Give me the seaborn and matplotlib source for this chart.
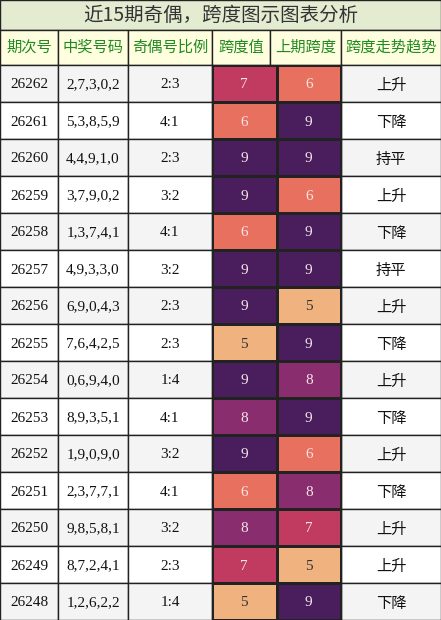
import matplotlib
matplotlib.use("Agg")
import matplotlib.pyplot as plt
from matplotlib.colors import ListedColormap, BoundaryNorm
from matplotlib.patches import Rectangle
import seaborn as sns
import numpy as np

plt.rcParams['font.family'] = ['Noto Sans CJK SC', 'DejaVu Sans']

title = "近15期奇偶，跨度图示图表分析"
headers = ["期次号", "中奖号码", "奇偶号比例", "跨度值", "上期跨度", "跨度走势趋势"]
periods = ["26262","26261","26260","26259","26258","26257","26256","26255","26254","26253","26252","26251","26250","26249","26248"]
numbers = ["2,7,3,0,2","5,3,8,5,9","4,4,9,1,0","3,7,9,0,2","1,3,7,4,1","4,9,3,3,0","6,9,0,4,3","7,6,4,2,5","0,6,9,4,0","8,9,3,5,1","1,9,0,9,0","2,3,7,7,1","9,8,5,8,1","8,7,2,4,1","1,2,6,2,2"]
ratios = ["2:3","4:1","2:3","3:2","4:1","3:2","2:3","2:3","1:4","4:1","3:2","4:1","3:2","2:3","1:4"]
span = [7,6,9,9,6,9,9,5,9,8,9,6,8,7,5]
prev_span = [6,9,9,6,9,9,5,9,8,9,6,8,7,5,9]
trend = ["上升","下降","持平","上升","下降","持平","上升","下降","上升","下降","上升","下降","上升","上升","下降"]

W, H = 441, 620
cols = [0, 58, 128, 212, 270, 341, 441]
top_title, top_head, top_rows = 0, 30, 65
rh = (H - top_rows) / 15

fig = plt.figure(figsize=(4.41, 6.2), dpi=100)
bg = fig.add_axes([0, 0, 1, 1])
bg.set_xlim(0, W); bg.set_ylim(H, 0); bg.axis('off')

bg.add_patch(Rectangle((0, 0), W, 30, facecolor='#e3ebd0', edgecolor='#222', lw=1))
bg.text(W/2, 15, title, ha='center', va='center', fontsize=14, color='#333')
for i, h in enumerate(headers):
    bg.add_patch(Rectangle((cols[i], top_head), cols[i+1]-cols[i], top_rows-top_head,
                           facecolor='#ffffe0', edgecolor='#222', lw=1))
    bg.text((cols[i]+cols[i+1])/2, (top_head+top_rows)/2, h, ha='center', va='center',
            fontsize=11, color='#1f8a1f')
for r in range(15):
    y0 = top_rows + r*rh
    fc = '#f4f4f4' if r % 2 == 0 else '#ffffff'
    vals = [periods[r], numbers[r], ratios[r], None, None, trend[r]]
    for i, v in enumerate(vals):
        if v is None:
            continue
        bg.add_patch(Rectangle((cols[i], y0), cols[i+1]-cols[i], rh, facecolor=fc, edgecolor='#222', lw=1))
        fs = 11 if i == 5 else 11
        fam = ['Noto Sans CJK SC'] if i == 5 else ['Liberation Serif', 'DejaVu Serif']
        bg.text((cols[i]+cols[i+1])/2, y0+rh/2, v, ha='center', va='center_baseline', fontsize=fs,
                color='#111', family=fam)

hx = fig.add_axes([cols[3]/W, 0, (cols[5]-cols[3])/W, (H-top_rows)/H])
cmap = ListedColormap(['#f0b27e', '#e8705e', '#c13a60', '#8a2d6e', '#4a1d5d'])
norm = BoundaryNorm([4.5, 5.5, 6.5, 7.5, 8.5, 9.5], 5)
data = np.array([span, prev_span]).T
sns.heatmap(data, ax=hx, cmap=cmap, norm=norm, cbar=False, annot=True, fmt='d',
            linewidths=0.8, linecolor='#222',
            annot_kws={'fontsize': 11, 'color': '#f2e6e6', 'family': ['Liberation Serif']})
for t, v in zip(hx.texts, data.flatten()):
    if v == 5:
        t.set_color('#333')
    t.set_va('center_baseline')
hx.set_xticks([]); hx.set_yticks([])
hx.set_xlabel(''); hx.set_ylabel('')
for s in hx.spines.values():
    s.set_visible(True); s.set_color('#222'); s.set_linewidth(1)

fig.savefig('out.png', dpi=100)
